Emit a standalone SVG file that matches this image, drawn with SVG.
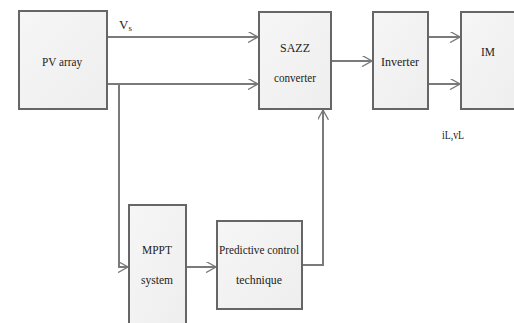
<svg xmlns="http://www.w3.org/2000/svg" width="514" height="323" viewBox="0 0 514 323">
<defs>
<linearGradient id="g" x1="0" y1="0" x2="1" y2="1">
<stop offset="0" stop-color="#f6f6f6"/>
<stop offset="1" stop-color="#eeeeee"/>
</linearGradient>
<marker id="a" viewBox="0 0 10 10" refX="10" refY="5" markerWidth="11" markerHeight="11" markerUnits="userSpaceOnUse" orient="auto">
<path d="M1,0 L10,5 L1,10" fill="none" stroke="#777" stroke-width="1.2"/>
</marker>
<style>
.box{fill:url(#g);stroke:#666;stroke-width:2}
.ln{fill:none;stroke:#7a7a7a;stroke-width:2}
.t{font-family:"Liberation Serif","Times New Roman",serif;font-size:13px;fill:#222;text-anchor:middle}
.l{font-family:"Liberation Serif","Times New Roman",serif;font-size:13px;fill:#222}
</style>
</defs>
<rect width="514" height="323" fill="#fff"/>
<g id="connectors">
<path class="ln" d="M107,37 H258" marker-end="url(#a)"/>
<path class="ln" d="M107,84 H258" marker-end="url(#a)"/>
<path class="ln" d="M119,84 V267 H128" marker-end="url(#a)"/>
<path class="ln" d="M186,267 H216" marker-end="url(#a)"/>
<path class="ln" d="M302,265 H323 V110" marker-end="url(#a)"/>
<path class="ln" d="M331,61 H372" marker-end="url(#a)"/>
<path class="ln" d="M428,37 H460" marker-end="url(#a)"/>
<path class="ln" d="M428,84 H460" marker-end="url(#a)"/>
</g>
<g id="pv">
<rect class="box" x="19" y="11" width="88" height="98"/>
<text class="t" x="62" y="66" textLength="40" lengthAdjust="spacingAndGlyphs">PV array</text>
</g>
<g id="sazz">
<rect class="box" x="259" y="12" width="72" height="97"/>
<text class="t" x="295" y="52" textLength="30" lengthAdjust="spacingAndGlyphs">SAZZ</text>
<text class="t" x="295" y="82" textLength="42" lengthAdjust="spacingAndGlyphs">converter</text>
</g>
<g id="inverter">
<rect class="box" x="373" y="12" width="55" height="97"/>
<text class="t" x="400" y="66" textLength="38" lengthAdjust="spacingAndGlyphs">Inverter</text>
</g>
<g id="im">
<rect class="box" x="461" y="12" width="60" height="97"/>
<text class="t" x="488" y="56" textLength="14" lengthAdjust="spacingAndGlyphs">IM</text>
</g>
<g id="mppt">
<rect class="box" x="129" y="205" width="57" height="130"/>
<text class="t" x="157" y="254" textLength="30" lengthAdjust="spacingAndGlyphs">MPPT</text>
<text class="t" x="157" y="284" textLength="32" lengthAdjust="spacingAndGlyphs">system</text>
</g>
<g id="predictive">
<rect class="box" x="217" y="221" width="85" height="88"/>
<text class="t" x="259" y="254" textLength="80" lengthAdjust="spacingAndGlyphs">Predictive control</text>
<text class="t" x="259" y="284" textLength="46" lengthAdjust="spacingAndGlyphs">technique</text>
</g>
<g id="labels">
<text class="l" x="119" y="29">V<tspan font-size="9" dy="2">s</tspan></text>
<text class="l" x="442" y="139" textLength="22" lengthAdjust="spacingAndGlyphs">iL,vL</text>
</g>
</svg>
